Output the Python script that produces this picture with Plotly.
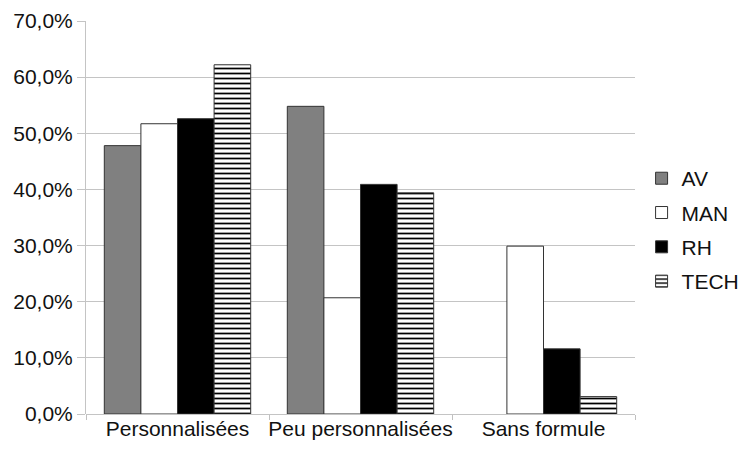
import plotly.graph_objects as go

categories = ["Personnalisées", "Peu personnalisées", "Sans formule"]
series_names = ["AV", "MAN", "RH", "TECH"]
av = [47.8, 54.8, 0.0]
man = [51.7, 20.7, 29.9]
rh = [52.6, 40.9, 11.6]
tech = [62.2, 39.4, 3.1]
y_ticks = [0, 10, 20, 30, 40, 50, 60, 70]
y_tick_labels = [f"{v:.1f}".replace(".", ",") + "%" for v in y_ticks]

styles = {
    "AV": dict(color="#808080"),
    "MAN": dict(color="#ffffff"),
    "RH": dict(color="#000000"),
    "TECH": dict(color="#ffffff", pattern=dict(shape="-", fgcolor="#000000", bgcolor="#ffffff", size=5, solidity=0.35, fillmode="replace")),
}

fig = go.Figure()
for name, vals in zip(series_names, [av, man, rh, tech]):
    m = dict(styles[name])
    m["line"] = dict(color="#333333", width=[1 if v > 0 else 0 for v in vals])
    fig.add_trace(go.Bar(x=categories, y=vals, name=name, marker=m, legendgroup=name))

font = dict(family="Liberation Sans, Arial, sans-serif", size=21, color="#111111")
fig.update_layout(
    width=740, height=444,
    margin=dict(l=78, r=113, t=13, b=38, autoexpand=False),
    paper_bgcolor="white", plot_bgcolor="white",
    barmode="group", bargap=0.2, bargroupgap=0,
    font=font,
    legend=dict(x=1.012, y=0.468, xanchor="left", yanchor="middle", font=font,
                borderwidth=0, traceorder="grouped", tracegroupgap=4,
                bgcolor="rgba(0,0,0,0)"),
    xaxis=dict(showgrid=False, ticks="outside", tickson="boundaries", ticklen=5,
               tickangle=0, tickcolor="#c0c0c0", showline=False, zeroline=False,
               automargin=False),
    yaxis=dict(range=[0, 70], tickvals=y_ticks, ticktext=y_tick_labels,
               showgrid=True, gridcolor="#c4c4c4", gridwidth=1,
               ticks="outside", ticklen=8, tickcolor="#c4c4c4",
               showline=True, linecolor="#c4c4c4", linewidth=1, automargin=False,
               zeroline=True, zerolinecolor="#c4c4c4", zerolinewidth=1),
)
fig.write_html("out.html")
